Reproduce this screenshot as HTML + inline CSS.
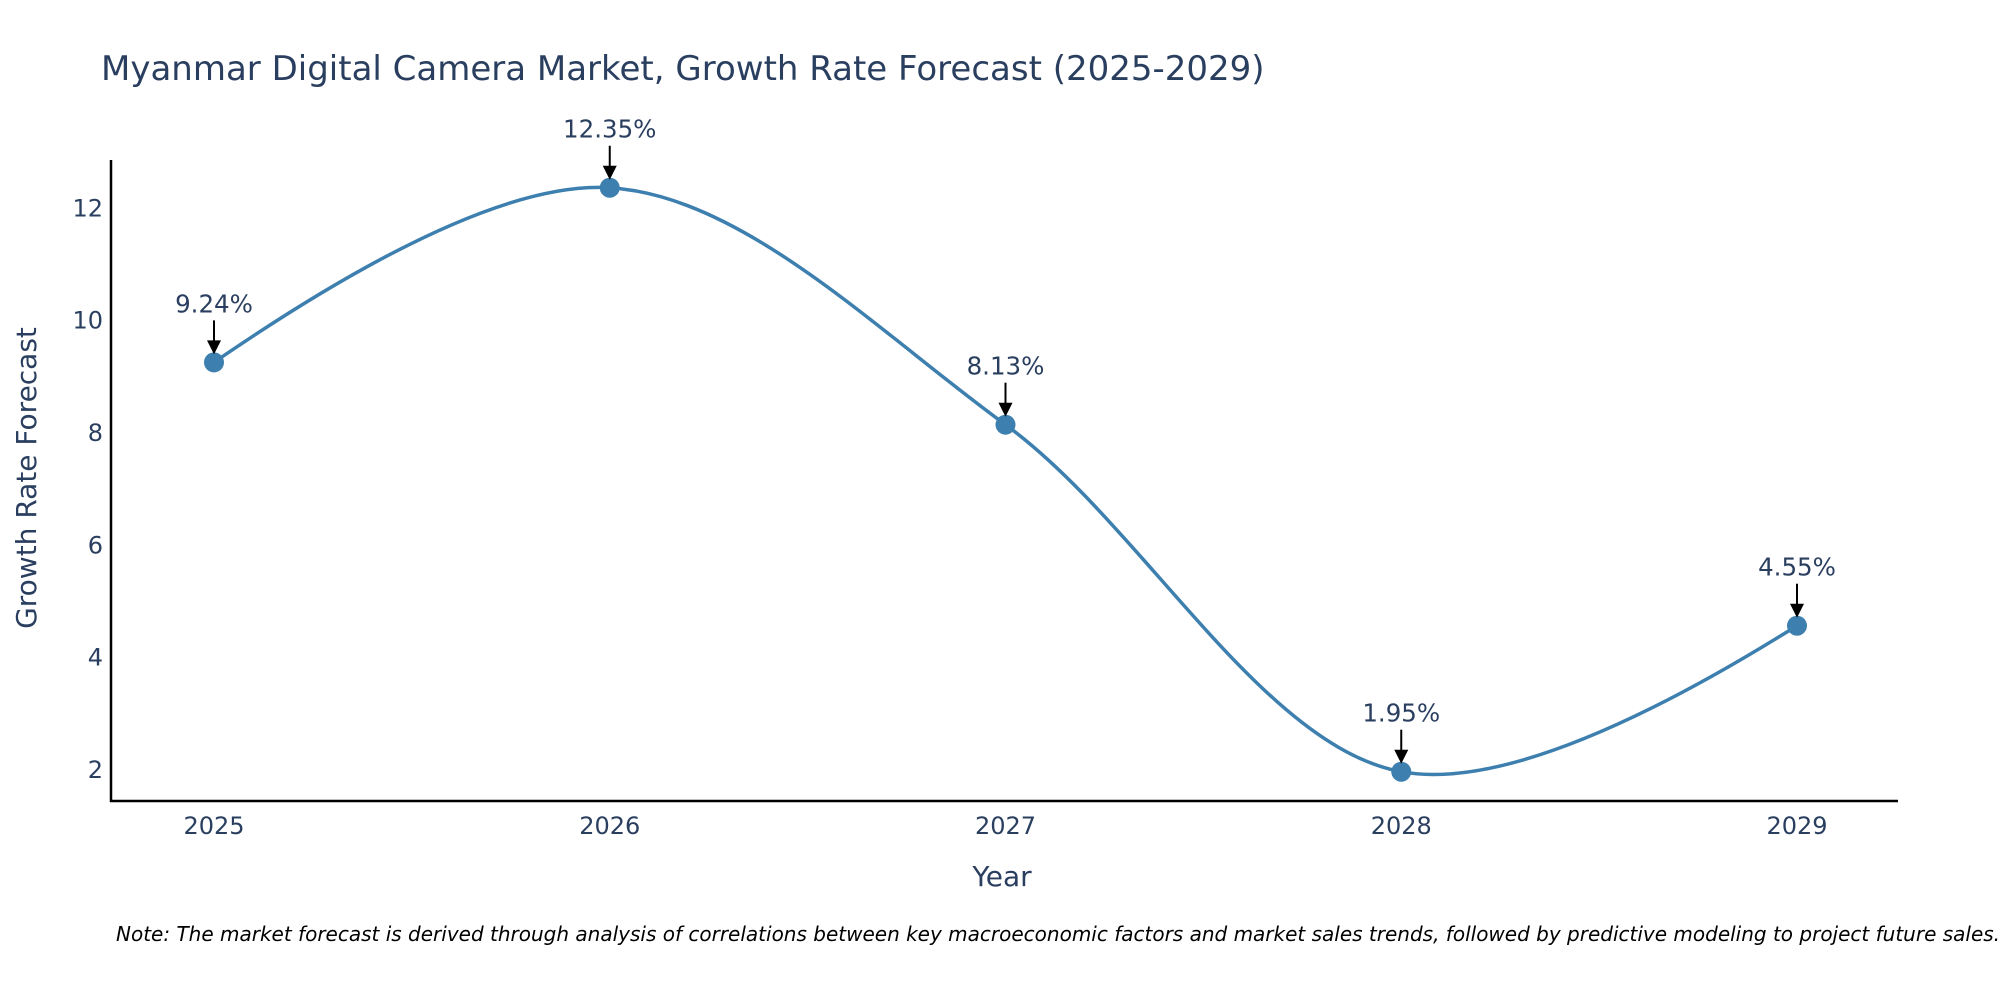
<!DOCTYPE html>
<html><head><meta charset="utf-8"><style>
html,body{margin:0;padding:0;background:#fff;overflow:hidden;}
svg text{font-family:"DejaVu Sans","Liberation Sans",sans-serif;}
</style></head><body>
<svg id="chart" width="2000" height="1000" viewBox="0 0 2000 1000" xmlns="http://www.w3.org/2000/svg">
<rect width="2000" height="1000" fill="#fff"/>
<text x="101" y="80" font-size="34" fill="#2a3f5f">Myanmar Digital Camera Market, Growth Rate Forecast (2025-2029)</text>
<text x="1002" y="886" font-size="28" fill="#2a3f5f" text-anchor="middle">Year</text>
<text transform="translate(36,478) rotate(-90)" font-size="28" fill="#2a3f5f" text-anchor="middle">Growth Rate Forecast</text>
<text x="116" y="941" font-size="20" font-style="italic" fill="#000">Note: The market forecast is derived through analysis of correlations between key macroeconomic factors and market sales trends, followed by predictive modeling to project future sales.</text>
<line x1="111" y1="160" x2="111" y2="802" stroke="#000" stroke-width="2.5"/>
<line x1="110" y1="801" x2="1898" y2="801" stroke="#000" stroke-width="2.5"/>
<g id="yticks"></g><g id="xticks"></g><g id="series"></g><g id="annots"></g>
</svg>
<script>
const years = [2025, 2026, 2027, 2028, 2029];
const growth = [9.24, 12.35, 8.13, 1.95, 4.55];
const yTicks = [2, 4, 6, 8, 10, 12];
const labels = ["9.24%", "12.35%", "8.13%", "1.95%", "4.55%"];

const NS = "http://www.w3.org/2000/svg";
function xs(v){ return 214 + (v - 2025) * (1797 - 214) / 4; }
function ys(v){ return 771.7 - (v - 1.95) * 56.15; }
function mk(tag, attrs, parent){ const e = document.createElementNS(NS, tag); for (const k in attrs) e.setAttribute(k, attrs[k]); parent.appendChild(e); return e; }

const yg = document.getElementById('yticks');
yTicks.forEach(t => {
  const e = mk('text', {x: 103, y: ys(t) + 9, 'font-size': 24, fill: '#2a3f5f', 'text-anchor': 'end'}, yg);
  
  
  e.textContent = t;
});
const xg = document.getElementById('xticks');
years.forEach(y => {
  const e = mk('text', {x: xs(y), y: 834, 'font-size': 24, fill: '#2a3f5f', 'text-anchor': 'middle'}, xg);
  
  
  e.textContent = y;
});

const pts = years.map((y, i) => [xs(y), ys(growth[i])]);
function tangent(p, t, n, s){
  const d1x = p[0]-t[0], d1y = p[1]-t[1], d2x = n[0]-t[0], d2y = n[1]-t[1];
  const d1a = Math.pow(d1x*d1x + d1y*d1y, 0.25), d2a = Math.pow(d2x*d2x + d2y*d2y, 0.25);
  const numx = (d2a*d2a*d1x - d1a*d1a*d2x) * s, numy = (d2a*d2a*d1y - d1a*d1a*d2y) * s;
  const den1 = 3*d2a*(d1a+d2a), den2 = 3*d1a*(d1a+d2a);
  return [[t[0] + numx/den1, t[1] + numy/den1], [t[0] - numx/den2, t[1] - numy/den2]];
}
const tg = [];
for (let i = 1; i < pts.length - 1; i++) tg.push(tangent(pts[i-1], pts[i], pts[i+1], 1));
const P = q => q[0].toFixed(2) + ',' + q[1].toFixed(2);
let d = 'M' + P(pts[0]) + 'Q' + P(tg[0][0]) + ' ' + P(pts[1]);
for (let i = 2; i < pts.length - 1; i++) d += 'C' + P(tg[i-2][1]) + ' ' + P(tg[i-1][0]) + ' ' + P(pts[i]);
d += 'Q' + P(tg[tg.length-1][1]) + ' ' + P(pts[pts.length-1]);
const sg = document.getElementById('series');
const line = mk('path', {d: d, fill: 'none', stroke: '#3d7fae', 'stroke-width': 3.5}, sg);


pts.forEach(p => {
  const c = mk('circle', {cx: p[0], cy: p[1], r: 10, fill: '#3d7fae'}, sg);
  
  
});

const ag = document.getElementById('annots');
pts.forEach((p, i) => {
  const l = mk('line', {x1: p[0], y1: p[1] - 42, x2: p[0], y2: p[1] - 20, stroke: '#000', 'stroke-width': 2}, ag);
  
  
  const h = mk('polygon', {points: (p[0]-7)+','+(p[1]-22)+' '+(p[0]+7)+','+(p[1]-22)+' '+p[0]+','+(p[1]-8), fill: '#000'}, ag);
  
  
  const t = mk('text', {x: p[0], y: p[1] - 50, 'font-size': 24.5, fill: '#2a3f5f', 'text-anchor': 'middle'}, ag);
  
  
  t.textContent = labels[i];
});
</script>
</body></html>
